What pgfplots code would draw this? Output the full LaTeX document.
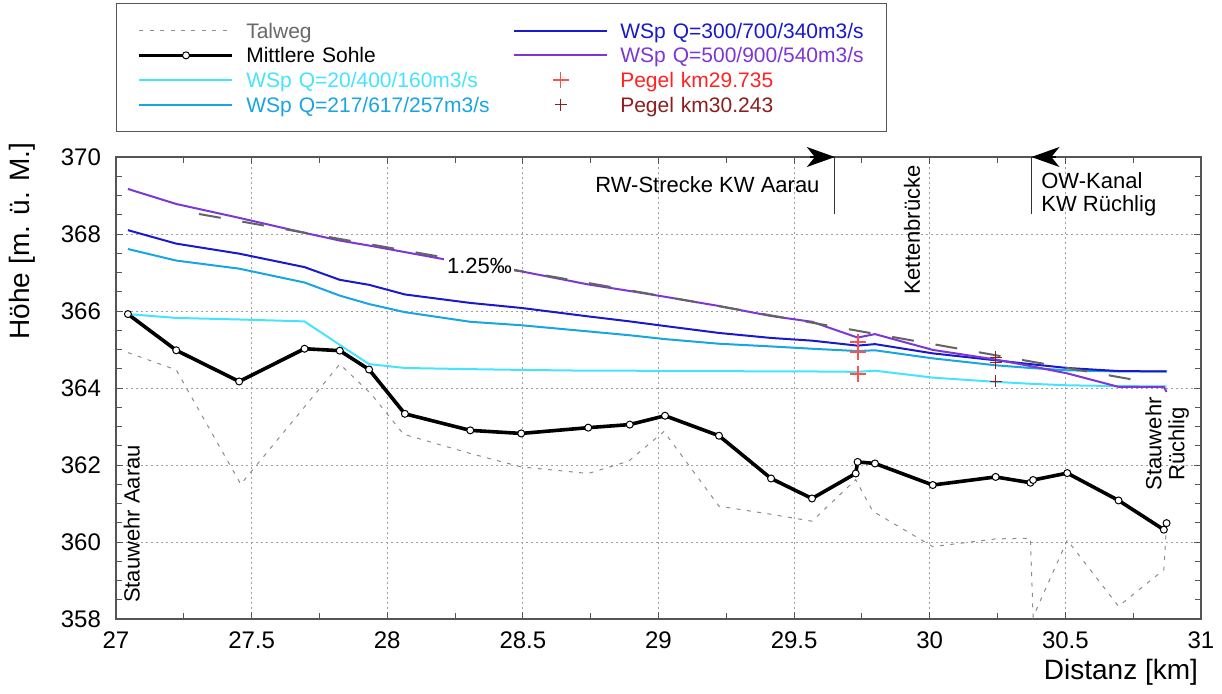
\documentclass[border=0pt]{standalone}
\usepackage{fontspec}
\setmainfont{Liberation Sans}
\usepackage{pgfplots}
\pgfplotsset{compat=1.18}
\usetikzlibrary{arrows.meta}

\definecolor{talweg}{RGB}{140,140,140}
\definecolor{talwegtext}{RGB}{105,105,105}
\definecolor{wspa}{RGB}{70,228,252}
\definecolor{wspb}{RGB}{25,165,225}
\definecolor{wspc}{RGB}{25,25,205}
\definecolor{wspd}{RGB}{125,55,215}
\definecolor{pegela}{RGB}{255,35,35}
\definecolor{pegelamark}{RGB}{255,80,80}
\definecolor{pegelb}{RGB}{140,30,30}
\definecolor{frame}{RGB}{85,85,85}
\definecolor{slope}{RGB}{100,100,100}

% Talweg (tiefster Punkt)
\pgfplotstableread{
km h
27.044 364.92
27.222 364.47
27.460 361.50
27.825 364.62
27.940 363.85
28.060 362.80
28.306 362.30
28.494 361.95
28.741 361.78
28.890 362.10
29.020 362.87
29.223 360.93
29.415 360.72
29.566 360.54
29.727 361.62
29.790 360.80
30.011 359.88
30.243 360.08
30.371 360.10
30.381 358.05
30.507 360.05
30.696 358.33
30.863 359.28
30.873 360.45
}\talweg

% Mittlere Sohle
\pgfplotstableread{
km h
27.044 365.92
27.222 364.98
27.454 364.17
27.695 365.02
27.825 364.97
27.933 364.48
28.065 363.33
28.306 362.90
28.494 362.82
28.741 362.97
28.894 363.05
29.024 363.28
29.223 362.76
29.415 361.65
29.566 361.13
29.727 361.78
29.734 362.08
29.798 362.04
30.011 361.48
30.243 361.69
30.371 361.54
30.381 361.61
30.507 361.79
30.696 361.08
30.863 360.32
30.873 360.49
}\sohle

% Wasserspiegel, Abfluesse Q in m3/s
\pgfplotstableread{
km a b c d
27.044 365.92 367.61 368.10 369.17
27.222 365.82 367.31 367.75 368.78
27.454 365.78 367.10 367.49 368.42
27.695 365.73 366.74 367.14 368.03
27.825 365.12 366.40 366.81 367.83
27.933 364.62 366.18 366.68 367.70
28.065 364.52 365.97 366.43 367.53
28.306 364.49 365.72 366.21 367.22
28.494 364.47 365.63 366.08 367.03
28.741 364.45 365.47 365.86 366.69
28.894 364.45 365.37 365.73 366.52
29.024 364.44 365.27 365.61 366.37
29.223 364.44 365.15 365.43 366.13
29.415 364.43 365.08 365.30 365.87
29.566 364.43 365.02 365.23 365.72
29.734 364.42 364.96 365.10 365.31
29.798 364.45 364.98 365.14 365.40
30.011 364.27 364.77 364.90 364.99
30.243 364.16 364.59 364.72 364.74
30.371 364.11 364.52 364.62 364.57
30.507 364.07 364.46 364.52 364.38
30.696 364.05 364.43 364.44 364.03
30.863 364.04 364.43 364.43 364.03
30.873 364.04 364.43 364.43 363.90
}\wsp

\begin{document}
\begin{tikzpicture}
\useasboundingbox (-58pt,-37pt) rectangle (553pt,309.5pt);
\begin{axis}[
  scale only axis, width=542.5pt, height=231pt,
  xmin=27, xmax=31, ymin=358, ymax=370,
  xtick={27,27.5,28,28.5,29,29.5,30,30.5,31},
  ytick={358,360,362,364,366,368,370},
  minor x tick num=1, minor y tick num=3,
  tick align=inside,
  major tick length=3.5pt, minor tick length=3pt,
  grid=major,
  major grid style={gray!75, line width=0.4pt, dash pattern=on 1pt off 1.5pt},
  axis line style={frame, line width=0.7pt},
  every tick/.style={frame, line width=0.5pt},
  /pgf/number format/assume math mode=true,
  ticklabel style={font=\fontsize{12}{12}\selectfont},
  xticklabel style={yshift=-3pt},
  yticklabel style={xshift=-4pt},
  xlabel={Distanz [km]}, ylabel={Höhe [m. ü. M.]},
  label style={font=\fontsize{14}{14}\selectfont},
  xlabel style={at={(axis description cs:1.0037,-0.115)}, anchor=east},
  ylabel style={at={(axis description cs:-0.086,0.818)}, anchor=center},
  clip=false,
  legend columns=2,
  legend cell align=left,
  legend image code/.code={\draw[mark repeat=2,mark phase=2,#1] plot coordinates {(0pt,0pt) (23.25pt,0pt) (46.5pt,0pt)};},
  legend style={at={(axis description cs:0,1.3333)}, anchor=north west,
    draw=frame, line width=0.7pt, inner xsep=10.5pt, inner ysep=7.3pt,
    font=\fontsize{10.5}{12}\selectfont,
    nodes={text width=122.5pt, text height=8.6pt, text depth=1.1pt, inner xsep=0pt, inner ysep=1.32pt},
    /tikz/every odd column/.append style={column sep=6pt},
    /tikz/every even column/.append style={column sep=11pt}},
]
\addplot[forget plot, talweg, line width=0.5pt, dash pattern=on 2pt off 3.2pt] table[x=km, y=h] {\talweg};
\addplot[forget plot, black, line width=1.8pt, mark=*, mark size=1.75pt,
  mark options={fill=white, draw=black, line width=0.5pt}] table[x=km, y=h] {\sohle};
\addplot[forget plot, wspa, line width=1pt] table[x=km, y=a] {\wsp};
\addplot[forget plot, wspb, line width=1pt] table[x=km, y=b] {\wsp};
\addplot[forget plot, wspc, line width=1pt] table[x=km, y=c] {\wsp};
\addplot[forget plot, wspd, line width=1pt] table[x=km, y=d] {\wsp};
% Gefaelle 1.25 Promille
\addplot[forget plot, slope, line width=1pt, dash pattern=on 11pt off 11pt] coordinates {(27.306,368.52) (30.78,364.18)};
% Pegel
\addplot[forget plot, only marks, mark=+, mark size=4pt, mark options={pegelamark, line width=0.7pt}] coordinates {(29.735,365.19) (29.735,364.94) (29.735,364.36)};
\addplot[forget plot, only marks, mark=+, mark size=3pt, mark options={pegelb, line width=0.7pt}] coordinates {(30.243,364.80) (30.243,364.66) (30.243,364.17)};

% Legende
\addlegendimage{talweg, line width=0.5pt, dash pattern=on 2pt off 3.2pt}
\addlegendentry{\textcolor{talwegtext}{Talweg}}
\addlegendimage{wspc, line width=1pt}
\addlegendentry{\textcolor{wspc}{WSp Q=300/700/340m3/s}}
\addlegendimage{black, line width=1.8pt, mark=*, mark size=1.75pt, mark options={fill=white, draw=black, line width=0.5pt}}
\addlegendentry{Mittlere Sohle}
\addlegendimage{wspd, line width=1pt}
\addlegendentry{\textcolor{wspd}{WSp Q=500/900/540m3/s}}
\addlegendimage{wspa, line width=1pt}
\addlegendentry{\textcolor{wspa}{WSp Q=20/400/160m3/s}}
\addlegendimage{only marks, mark=+, mark size=4pt, mark options={pegelamark, line width=0.7pt}}
\addlegendentry{\textcolor{pegela}{Pegel km29.735}}
\addlegendimage{wspb, line width=1pt}
\addlegendentry{\textcolor{wspb}{WSp Q=217/617/257m3/s}}
\addlegendimage{only marks, mark=+, mark size=3pt, mark options={pegelb, line width=0.7pt}}
\addlegendentry{\textcolor{pegelb}{Pegel km30.243}}

% Abschnittsgrenzen
\draw[black!80, line width=0.6pt] (axis cs:29.65,370) -- (axis cs:29.65,368.52);
\draw[black, line width=0.6pt, -{Stealth[length=14pt,width=10pt,inset=4pt]}] (axis cs:29.56,370) -- (axis cs:29.65,370);
\draw[black!80, line width=0.6pt] (axis cs:30.375,370) -- (axis cs:30.375,368.52);
\draw[black, line width=0.6pt, -{Stealth[length=14pt,width=10pt,inset=4pt]}] (axis cs:30.465,370) -- (axis cs:30.375,370);

\node[anchor=east, inner sep=0pt, font=\fontsize{11}{11}\selectfont] at (axis cs:29.595,369.27) {RW-Strecke KW Aarau};
\node[anchor=west, inner sep=0pt, align=left, font=\fontsize{11}{11.5}\selectfont] at (axis cs:30.41,369.03) {OW-Kanal\\KW Rüchlig};
\node[rotate=90, inner sep=0pt, font=\fontsize{11}{11}\selectfont] at (axis cs:29.935,368.1) {Kettenbrücke};
\node[rotate=90, inner sep=0pt, font=\fontsize{11}{11}\selectfont] at (axis cs:27.058,360.47) {Stauwehr Aarau};
\node[rotate=90, inner sep=0pt, align=center, font=\fontsize{11}{11.5}\selectfont] at (axis cs:30.875,362.55) {Stauwehr\\Rüchlig};
\node[fill=white, inner sep=1.3pt, font=\fontsize{11}{11}\selectfont] at (axis cs:28.34,367.16) {1.25‰};
\end{axis}
\end{tikzpicture}
\end{document}
